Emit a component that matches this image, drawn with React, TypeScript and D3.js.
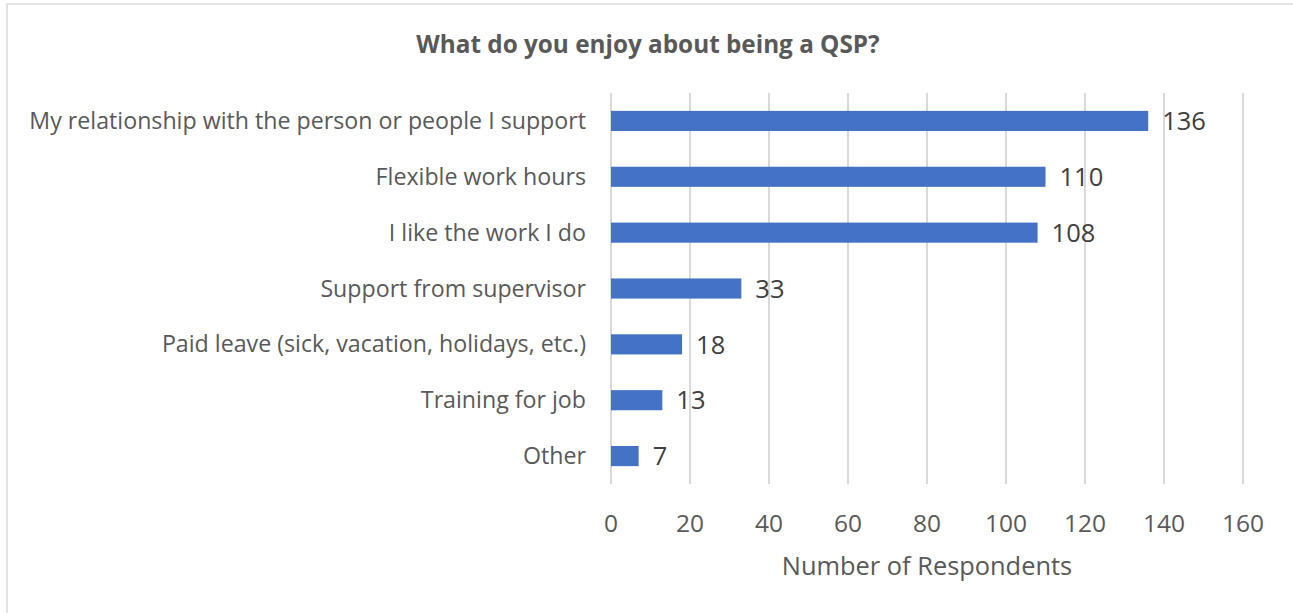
import React from "react";
import * as d3 from "d3";

const title = "What do you enjoy about being a QSP?";
const categories = [
  "My relationship with the person or people I support",
  "Flexible work hours",
  "I like the work I do",
  "Support from supervisor",
  "Paid leave (sick, vacation, holidays, etc.)",
  "Training for job",
  "Other",
];
const values = [136, 110, 108, 33, 18, 13, 7];
const xTicks = [0, 20, 40, 60, 80, 100, 120, 140, 160];
const xAxisTitle = "Number of Respondents";

const W = 1293;
const H = 613;
const FONT = "'Open Sans', sans-serif";

export default function App() {
  const x = d3.scaleLinear().domain([0, 160]).range([611, 1243]);
  const y = d3.scaleBand().domain(categories).range([93, 484]).paddingInner(0.64).paddingOuter(0.32);

  return (
    <svg
      width={W}
      height={H}
      style={{ position: "absolute", left: 0, top: 0, background: "#fff" }}
    >
      <rect x={7} y={4} width={W} height={H} fill="#fff" stroke="#d9d9d9" strokeWidth={1.5} />
      <text
        x={648}
        y={53}
        textAnchor="middle"
        fontFamily={FONT}
        fontWeight="bold"
        fontSize={24.3}
        fill="#595959"
      >
        {title}
      </text>
      {xTicks.map((t) => (
        <line key={"g" + t} x1={x(t)} x2={x(t)} y1={93} y2={484} stroke="#d9d9d9" strokeWidth={2} />
      ))}
      {categories.map((c, i) => (
        <g key={c}>
          <rect
            x={x(0)}
            y={y(c)!}
            width={x(values[i]) - x(0)}
            height={y.bandwidth()}
            fill="#4472C4"
          />
          <text
            x={586}
            y={y(c)! + y.bandwidth() / 2}
            dy="0.35em"
            textAnchor="end"
            fontFamily={FONT}
            fontSize={23.2}
            fill="#595959"
          >
            {c}
          </text>
          <text
            x={x(values[i]) + 14}
            y={y(c)! + y.bandwidth() / 2}
            dy="0.36em"
            fontFamily={FONT}
            fontSize={25.5}
            fill="#404040"
          >
            {values[i]}
          </text>
        </g>
      ))}
      {xTicks.map((t) => (
        <text
          key={"t" + t}
          x={x(t)}
          y={532}
          textAnchor="middle"
          fontFamily={FONT}
          fontSize={24.5}
          fill="#595959"
        >
          {t}
        </text>
      ))}
      <text
        x={927}
        y={575}
        textAnchor="middle"
        fontFamily={FONT}
        fontSize={25.4}
        fill="#595959"
      >
        {xAxisTitle}
      </text>
    </svg>
  );
}
